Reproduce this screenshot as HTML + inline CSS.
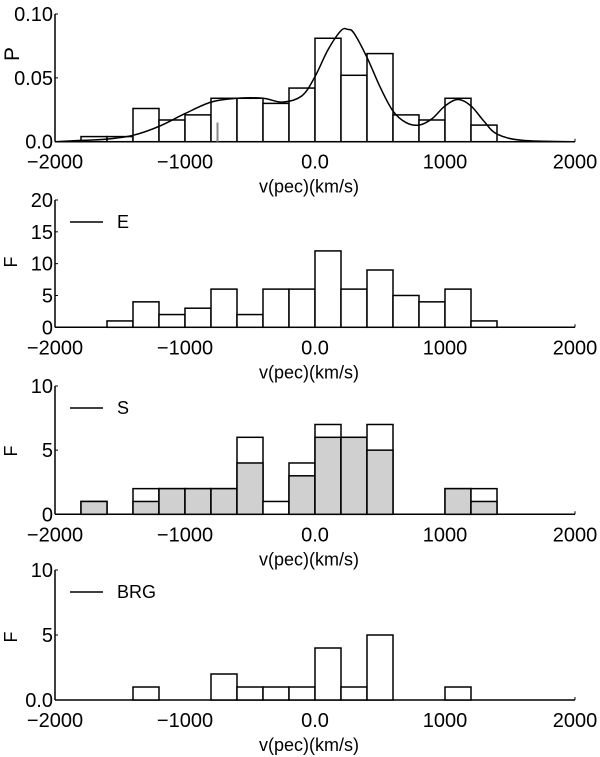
<!DOCTYPE html>
<html><head><meta charset="utf-8"><style>
html,body{margin:0;padding:0;background:#fff;}
svg{display:block;font-family:"Liberation Sans",sans-serif;}
</style></head><body>
<svg id="fig" width="600" height="757" viewBox="0 0 600 757"></svg>
<script>
const binStarts = [-1800,-1600,-1400,-1200,-1000,-800,-600,-400,-200,0,200,400,600,800,1000,1200];
const pValues = [0.004,0.004,0.026,0.017,0.021,0.034,0.034,0.030,0.042,0.081,0.052,0.069,0.021,0.017,0.034,0.013];
const curveV = [-2000,-1800,-1600,-1400,-1200,-1000,-800,-600,-400,-250,-100,0,100,200,250,300,400,500,600,700,800,900,1000,1100,1200,1300,1400,1600,2000];
const curveP = [0,0.001,0.002,0.005,0.012,0.022,0.031,0.034,0.034,0.031,0.036,0.051,0.072,0.087,0.088,0.085,0.066,0.043,0.024,0.015,0.013,0.018,0.028,0.033,0.028,0.016,0.006,0.001,0];
const markerV = [-750];
const markerP = [0.015];
const eBins = [-1600,-1400,-1200,-1000,-800,-600,-400,-200,0,200,400,600,800,1000,1200];
const eCounts = [1,4,2,3,6,2,6,6,12,6,9,5,4,6,1];
const sBins = [-1800,-1400,-1200,-1000,-800,-600,-400,-200,0,200,400,1000,1200];
const sTotal = [1,2,2,2,2,6,1,4,7,6,7,2,2];
const sGray = [1,1,2,2,2,4,0,3,6,6,5,2,1];
const bBins = [-1400,-800,-600,-400,-200,0,200,400,1000];
const bCounts = [1,2,1,1,1,4,1,5,1];
const xTicks = [-2000,-1000,0,1000,2000];
const xTickLabels = ["\u22122000","\u22121000","0.0","1000","2000"];

const svg = document.getElementById('fig');
const NS = 'http://www.w3.org/2000/svg';
function mk(tag, attrs, parent){const e=document.createElementNS(NS,tag);for(const k in attrs)e.setAttribute(k,attrs[k]);(parent||svg).appendChild(e);return e;}
const X0=55,X1=575;
function xs(v){return X0+(v+2000)/4000*(X1-X0);}
const BW=200;

function panel(name, y0, yTop, ymax, yTicks, yLabels, ylab, legend){
  const g=mk('g',{});
  
  
  const ys=v=>y0-(v/ymax)*(y0-yTop);
  const ya=mk('line',{x1:X0,y1:yTop,x2:X0,y2:y0,stroke:'#000','stroke-width':1.5},g);
  
  
  const xa=mk('line',{x1:X0,y1:y0,x2:X1,y2:y0,stroke:'#000','stroke-width':1.5},g);
  
  
  mk('line',{x1:X1,y1:y0,x2:X1,y2:y0-3,stroke:'#000','stroke-width':1},g);
  yTicks.forEach((t,i)=>{
    mk('line',{x1:X0,y1:ys(t),x2:X0+3,y2:ys(t),stroke:'#000','stroke-width':1},g);
    const tx=mk('text',{x:X0-2,y:ys(t)+7,'text-anchor':'end','font-size':20},g);
    tx.textContent=yLabels[i];
    
    
  });
  xTicks.forEach((t,i)=>{
    const tx=mk('text',{x:xs(t),y:y0+27,'text-anchor':'middle','font-size':20},g);
    tx.textContent=xTickLabels[i];
    
    
  });
  const xl=mk('text',{x:xs(0)-6,y:y0+51,'text-anchor':'middle','font-size':18},g);
  xl.textContent='v(pec)(km/s)';
  
  
  const yl=mk('text',{transform:`translate(${ylab[1]},${ylab[2]}) rotate(-90)`,'text-anchor':'middle','font-size':ylab[3]},g);
  yl.textContent=ylab[0];
  
  
  if(legend){
    const lg=mk('g',{},g);
    
    
    mk('line',{x1:70,y1:yTop+22,x2:103,y2:yTop+22,stroke:'#000','stroke-width':1.5},lg);
    const lt=mk('text',{x:117,y:yTop+28,'font-size':18},lg);
    lt.textContent=legend;
  }
  return {g,ys};
}
function bar(g,v,h,ys,y0,fill,nm){
  const r=mk('rect',{x:xs(v),y:ys(h),width:xs(v+BW)-xs(v),height:y0-ys(h),fill:fill,stroke:'#000','stroke-width':1.5},g);
  
  
}

{const y0=141.7,yT=14;const p=panel('probability-panel',y0,yT,0.10,[0,0.05,0.10],['0.0','0.05','0.10'],['P',19,54,21],null);
 binStarts.forEach((v,i)=>bar(p.g,v,pValues[i],p.ys,y0,'#fff','probability-bar'));
 markerV.forEach((v,i)=>{const m=mk('line',{x1:xs(v),y1:y0,x2:xs(v),y2:p.ys(markerP[i]),stroke:'#888','stroke-width':2},p.g);
   
   });
 const pts=curveV.map((v,i)=>[xs(v),p.ys(curveP[i])]);
 let d=`M${pts[0][0]},${pts[0][1]}`;
 for(let i=0;i<pts.length-1;i++){const p0=pts[Math.max(0,i-1)],p1=pts[i],p2=pts[i+1],p3=pts[Math.min(pts.length-1,i+2)];
   d+=` C${p1[0]+(p2[0]-p0[0])/6},${p1[1]+(p2[1]-p0[1])/6} ${p2[0]-(p3[0]-p1[0])/6},${p2[1]-(p3[1]-p1[1])/6} ${p2[0]},${p2[1]}`;}
 const c=mk('path',{d:d,fill:'none',stroke:'#000','stroke-width':1.5},p.g);
 
 
}
{const y0=327.3,yT=200;const p=panel('elliptical-panel',y0,yT,20,[0,5,10,15,20],['0','5','10','15','20'],['F',17,262,18],'E');
 eBins.forEach((v,i)=>bar(p.g,v,eCounts[i],p.ys,y0,'#fff','e-bar'));}
{const y0=514.3,yT=386;const p=panel('spiral-panel',y0,yT,10,[0,5,10],['0','5','10'],['F',17,451,18],'S');
 sBins.forEach((v,i)=>{if(sTotal[i]>0)bar(p.g,v,sTotal[i],p.ys,y0,'#fff','s-total-bar');
   if(sGray[i]>0)bar(p.g,v,sGray[i],p.ys,y0,'#d0d0d0','s-gray-bar');});}
{const y0=700,yT=570;const p=panel('brg-panel',y0,yT,10,[0,5,10],['0.0','5','10'],['F',17,637,18],'BRG');
 bBins.forEach((v,i)=>bar(p.g,v,bCounts[i],p.ys,y0,'#fff','brg-bar'));}
</script>
</body></html>
